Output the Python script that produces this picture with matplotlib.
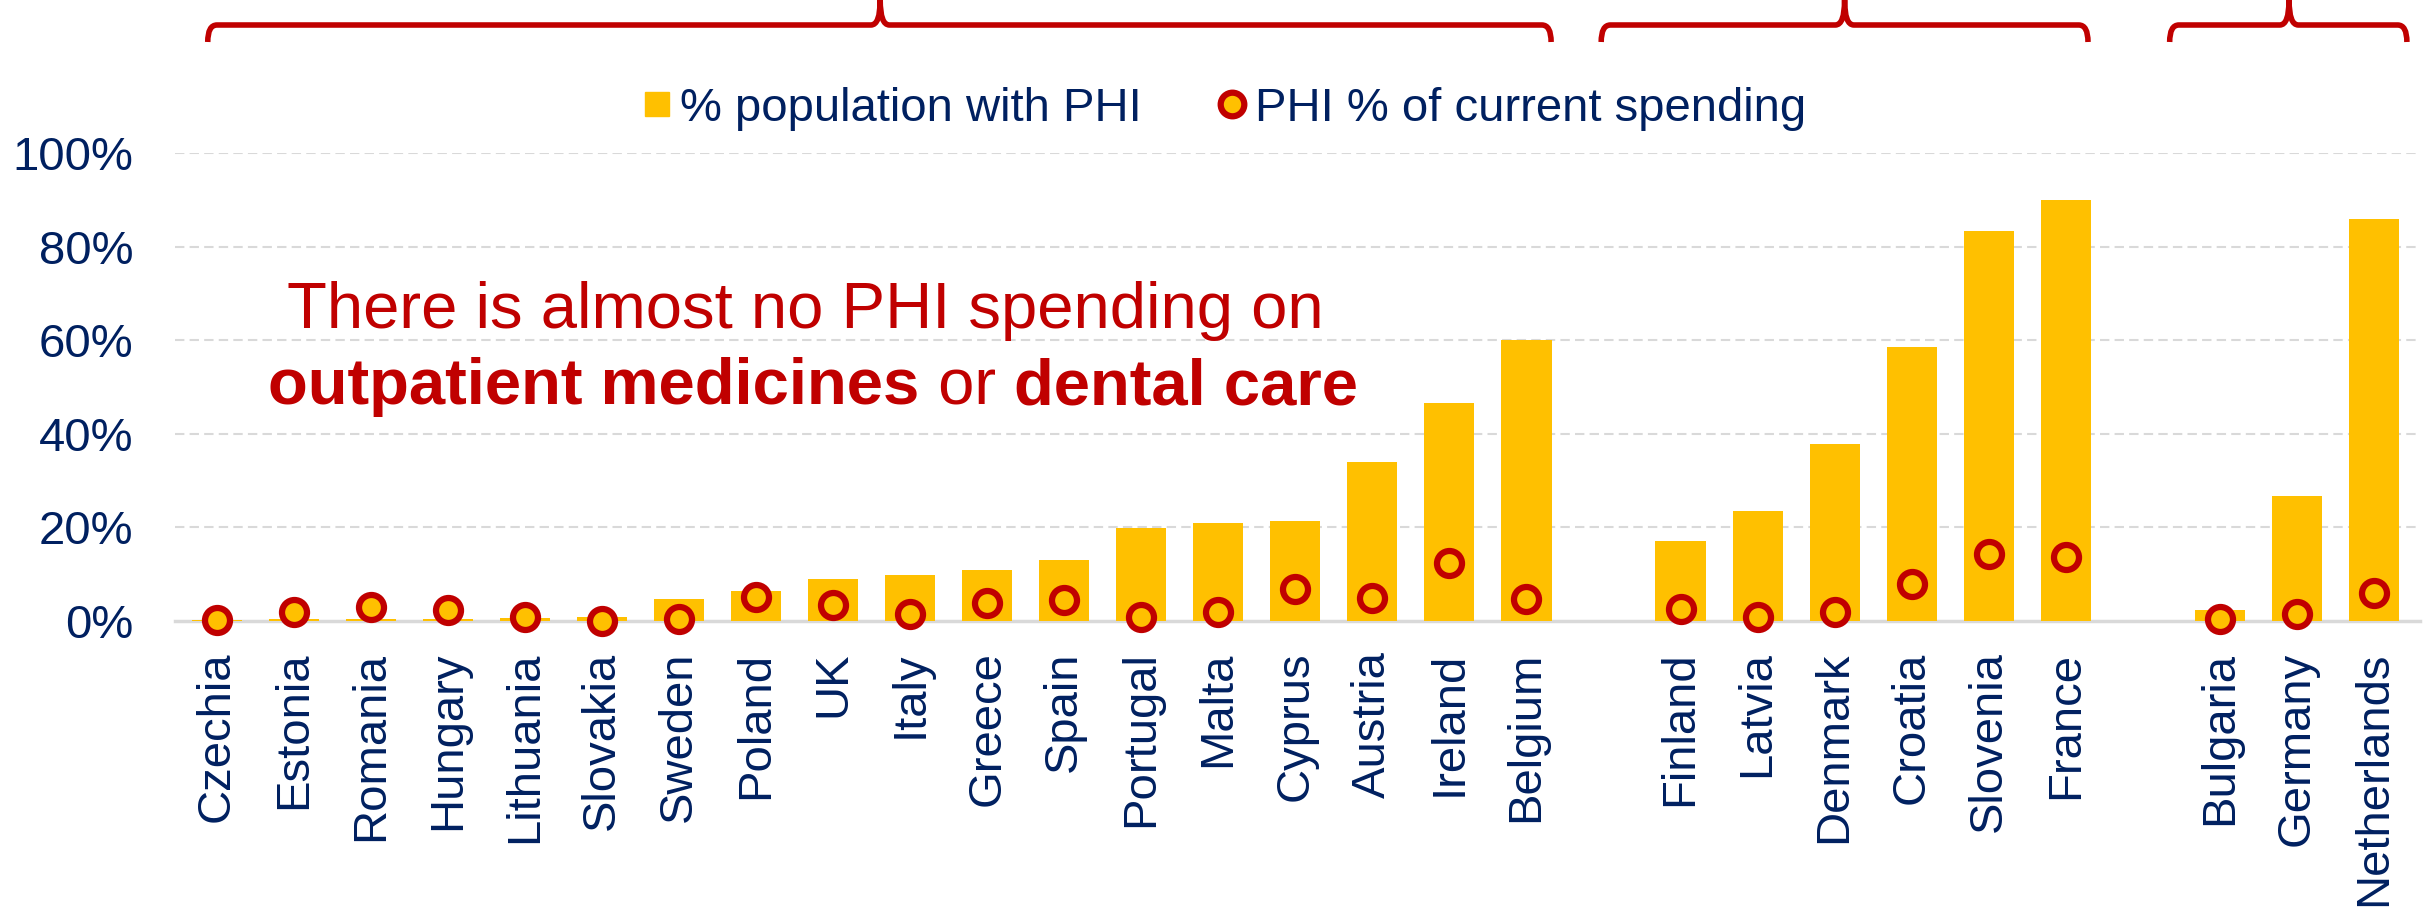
import matplotlib
matplotlib.use("Agg")
import matplotlib.pyplot as plt
from matplotlib.path import Path
from matplotlib.patches import PathPatch
from matplotlib.lines import Line2D
import matplotlib.transforms as mtransforms
import numpy as np

plt.rcParams['font.family'] = ['Liberation Sans', 'DejaVu Sans']

# Country groups (left to right)
group1 = ["Czechia", "Estonia", "Romania", "Hungary", "Lithuania", "Slovakia",
          "Sweden", "Poland", "UK", "Italy", "Greece", "Spain", "Portugal",
          "Malta", "Cyprus", "Austria", "Ireland", "Belgium"]
group2 = ["Finland", "Latvia", "Denmark", "Croatia", "Slovenia", "France"]
group3 = ["Bulgaria", "Germany", "Netherlands"]

# % of population with private health insurance
pop_phi = [0.2, 0.4, 0.4, 0.4, 0.6, 0.8, 4.8, 6.5, 9.0, 9.9, 11.0, 13.0, 19.8,
           21.0, 21.4, 34.0, 46.5, 60.0,
           17.1, 23.5, 37.9, 58.5, 83.4, 89.9,
           2.4, 26.7, 85.9]
# PHI as % of current health spending
phi_spend = [0.2, 2.0, 3.0, 2.3, 0.9, 0.1, 0.5, 5.1, 3.4, 1.4, 3.8, 4.5, 0.9,
             2.0, 6.8, 4.9, 12.4, 4.8,
             2.6, 0.8, 2.0, 8.0, 14.4, 13.6,
             0.4, 1.4, 5.9]

yticks = [0, 20, 40, 60, 80, 100]
ytick_labels = ["0%", "20%", "40%", "60%", "80%", "100%"]

YELLOW = "#FFC000"
RED = "#C00000"
NAVY = "#002060"
GRID = "#D9D9D9"

# x positions with a one-slot gap between groups
groups = [group1, group2, group3]
countries, xpos = [], []
start = 0
for g in groups:
    countries += g
    xpos += list(range(start, start + len(g)))
    start += len(g) + 1
xpos = np.array(xpos)

W, H = 2433, 915
fig = plt.figure(figsize=(W / 100, H / 100), dpi=100)
ax = fig.add_axes([175 / W, 1 - 621 / H, (2420 - 175) / W, (621 - 153) / H])

ax.bar(xpos, pop_phi, width=0.65, color=YELLOW, zorder=2)
ax.plot(xpos, phi_spend, linestyle="none", marker="o", markersize=18,
        markerfacecolor=YELLOW, markeredgecolor=RED, markeredgewidth=4.5,
        zorder=3, clip_on=False)

ax.set_xlim(-0.545, 28.6)
ax.set_ylim(0, 100)
ax.set_yticks(yticks)
ax.set_yticklabels(ytick_labels)
ax.set_xticks(xpos)
ax.set_xticklabels(countries, rotation=90)
ax.tick_params(axis="both", length=0, labelsize=34, labelcolor=NAVY)
ax.tick_params(axis="x", pad=22)
ax.tick_params(axis="y", pad=30)

for y in yticks[1:]:
    ax.axhline(y, color=GRID, linestyle=(0, (4.5, 2.5)), linewidth=1.5, zorder=1)
for s in ["top", "right", "left"]:
    ax.spines[s].set_visible(False)
ax.spines["bottom"].set_color(GRID)
ax.spines["bottom"].set_linewidth(2.5)
ax.spines["bottom"].set_zorder(1)

# Legend
handles = [
    Line2D([], [], linestyle="none", marker="s", markersize=17,
           markerfacecolor=YELLOW, markeredgecolor=YELLOW),
    Line2D([], [], linestyle="none", marker="o", markersize=17,
           markerfacecolor=YELLOW, markeredgecolor=RED, markeredgewidth=4.5),
]
fig.legend(handles, ["% population with PHI", "PHI % of current spending"],
           loc="center", bbox_to_anchor=(1222 / W, 1 - 109 / H), ncol=2,
           frameon=False, fontsize=34, labelcolor=NAVY, handletextpad=0.1,
           columnspacing=1.5, handlelength=0.8)

# Annotation
fig.text(805 / W, 1 - 311 / H, "There is almost no PHI spending on",
         ha="center", va="center", fontsize=47, color=RED)

line2 = [("outpatient medicines", "bold"), (" or ", "normal"),
         ("dental care", "bold")]
renderer = fig.canvas.get_renderer()
pieces = [fig.text(0, 1 - 387 / H, s, ha="left", va="center", fontsize=47,
                   color=RED, fontweight=w) for s, w in line2]
widths = [p.get_window_extent(renderer).width for p in pieces]
x = 813 - sum(widths) / 2
for p, w in zip(pieces, widths):
    p.set_x(x / W)
    x += w

# Group braces above the chart
trans = mtransforms.blended_transform_factory(ax.transData, fig.transFigure)
y_low = 1 - 42 / H
y_mid = 1 - 25 / H
y_top = 1.0


def brace(x0, x1, peak, r=0.12):
    verts = [(x0, y_low), (x0, y_mid), (x0 + r, y_mid),
             (peak - r, y_mid), (peak, y_mid), (peak, y_top),
             (peak, y_mid), (peak + r, y_mid),
             (x1 - r, y_mid), (x1, y_mid), (x1, y_low)]
    codes = [Path.MOVETO, Path.CURVE3, Path.CURVE3,
             Path.LINETO, Path.CURVE3, Path.CURVE3,
             Path.CURVE3, Path.CURVE3,
             Path.LINETO, Path.CURVE3, Path.CURVE3]
    patch = PathPatch(Path(verts, codes), facecolor="none", edgecolor=RED,
                      linewidth=4, transform=trans, clip_on=False,
                      capstyle="butt", joinstyle="round")
    fig.add_artist(patch)


brace(-0.12, 17.32, 8.61)
brace(17.97, 24.29, 21.13)
brace(25.35, 28.43, 26.9)

fig.savefig("out.png", dpi=100)
